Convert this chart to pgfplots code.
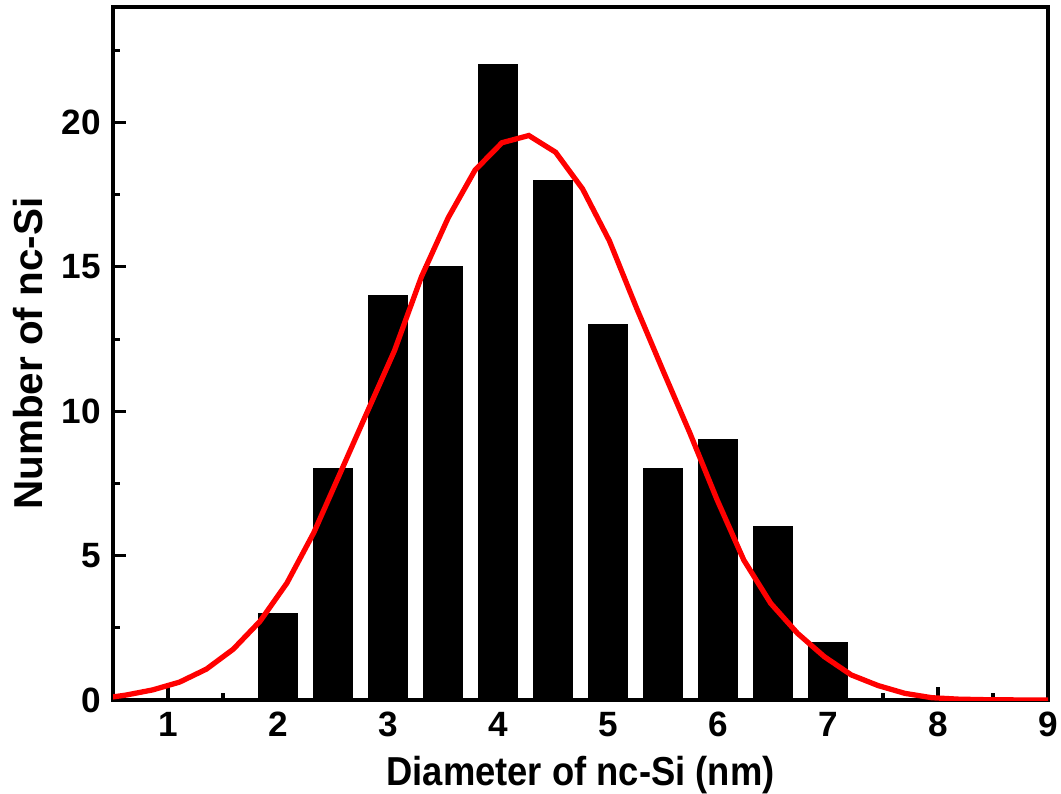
\documentclass[border=0pt]{standalone}
\usepackage{fontspec}
\setmainfont{Liberation Sans}
\usepackage{graphicx}
\usepackage{pgfplots}
\pgfplotsset{compat=1.18}

\begin{document}
\begin{tikzpicture}
\begin{axis}[
    name=ax,
    scale only axis,
    width=9.35cm, height=6.93cm,
    xmin=0.5, xmax=9, ymin=0, ymax=24,
    xtick={1,2,...,9}, ytick={0,5,...,20},
    minor xtick={1.5,2.5,...,8.5},
    minor ytick={2.5,7.5,...,22.5},
    tick align=inside,
    xtick pos=left, ytick pos=left,
    major tick length=0.13cm, minor tick length=0.07cm,
    axis line style={line width=0.9pt},
    every tick/.style={line width=0.9pt, black},
    /pgf/number format/assume math mode=true,
    ticklabel style={font=\bfseries\fontsize{10}{11}\selectfont},
    xlabel={\scalebox{0.9}[1]{Diameter of nc-Si (nm)}},
    ylabel={Number of nc-Si},
    label style={font=\bfseries\fontsize{11.5}{13}\selectfont},
    xlabel style={at={(axis description cs:0.5,-0.1227)}, anchor=base},
    ylabel style={at={(axis description cs:-0.0749,0.5)}, anchor=base},
]
% histogram of diameters
\addplot[ybar, bar width=0.345, fill=black, draw=black] coordinates {
    (2.0,3) (2.5,8) (3.0,14) (3.5,15) (4.0,22) (4.5,18)
    (5.0,13) (5.5,8) (6.0,9) (6.5,6) (7.0,2)
};
% gaussian fit
\addplot[red, line width=1.5pt, mark=none] coordinates {
    (0.372,0.04) (0.616,0.17) (0.860,0.35) (1.105,0.62) (1.349,1.07)
    (1.593,1.76) (1.837,2.73) (2.081,4.05) (2.326,5.80) (2.570,7.90)
    (2.814,10.0) (3.059,12.1) (3.303,14.65) (3.547,16.7) (3.791,18.35)
    (4.036,19.3) (4.280,19.55) (4.524,18.97) (4.769,17.7) (5.013,15.9)
    (5.257,13.6) (5.501,11.4) (5.746,9.23) (5.990,6.95) (6.234,4.85)
    (6.479,3.35) (6.723,2.31) (6.967,1.50) (7.211,0.87) (7.456,0.50)
    (7.700,0.23) (7.944,0.08) (8.189,0.03) (8.433,0.012) (8.677,0.005)
    (8.921,0.002) (9.166,0.0)
};
\end{axis}
\pgfresetboundingbox
\path (ax.south west) ++(-1.13cm,-0.93cm) coordinate (bl);
\path (ax.north east) ++(0.13cm,0.07cm) coordinate (tr);
\path (bl) rectangle (tr);
\end{tikzpicture}
\end{document}
